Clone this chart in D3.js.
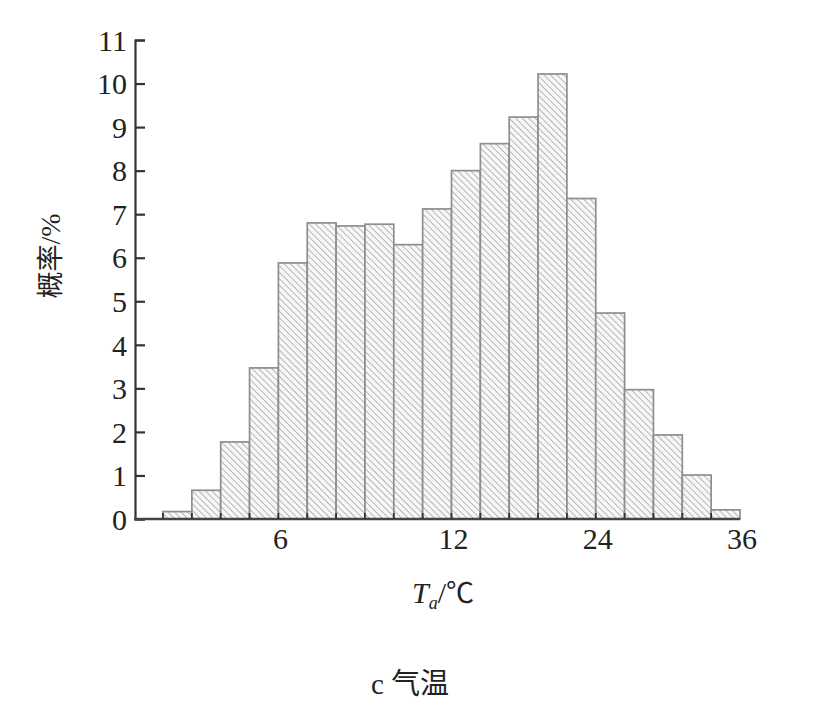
<!DOCTYPE html>
<html><head><meta charset="utf-8">
<script src="https://cdn.jsdelivr.net/npm/d3@7/dist/d3.min.js"></script>
<style>body{margin:0;background:#fff}</style>
</head><body>
<script>
// Data
const bins = d3.range(20).map(i => "b" + i);
const probability = [0.17, 0.66, 1.77, 3.47, 5.88, 6.80, 6.73, 6.77, 6.30, 7.12,
                     8.00, 8.62, 9.23, 10.22, 7.36, 4.73, 2.97, 1.93, 1.01, 0.21];
const yTicks = [0,1,2,3,4,5,6,7,8,9,10,11];
const xTickLabels = ["6","12","24","36"];
const xTickBoundaryIndex = [4,10,15,20];

const W = 832, H = 701;
const svg = d3.select("body").append("svg").attr("width", W).attr("height", H);
const serif = "'Liberation Serif','DejaVu Serif',serif";
const cjk = "'Noto Sans CJK SC', sans-serif";

const defs = svg.append("defs");
const pat = defs.append("pattern").attr("id","hatch").attr("patternUnits","userSpaceOnUse")
  .attr("width",4.6).attr("height",4.6).attr("patternTransform","rotate(-45)");
pat.append("rect").attr("width",4.6).attr("height",4.6).attr("fill","#f7f7f7");
pat.append("line").attr("x1",0).attr("y1",0).attr("x2",0).attr("y2",4.6)
  .attr("stroke","#a4a4a4").attr("stroke-width",1.5);

const axisX = 135, x0 = 163, x1 = 740, yTop = 40, yBot = 519;
const x = d3.scaleBand().domain(bins).range([x0, x1]).padding(0);
const y = d3.scaleLinear().domain([0, 11]).range([yBot, yTop]);
const bw = x.bandwidth();
const boundary = i => x0 + i * bw;

// bars
svg.append("g").selectAll("rect").data(probability).join("rect")
  .attr("x", (d,i) => x(bins[i]))
  .attr("y", d => y(d))
  .attr("width", bw)
  .attr("height", d => y(0) - y(d))
  .attr("fill", "url(#hatch)")
  .attr("stroke", "#8e8e8e").attr("stroke-width", 1.7);

// y axis
const yAxis = d3.axisLeft(y).tickValues(yTicks).tickSize(-10).tickPadding(16).tickFormat(d3.format("d"));
const gy = svg.append("g").attr("transform", `translate(${axisX},0)`).call(yAxis);
gy.select(".domain").attr("stroke","#333").attr("stroke-width",2.2);
gy.selectAll(".tick line").attr("stroke","#333").attr("stroke-width",2.2);
gy.selectAll(".tick text").attr("font-family", serif).attr("font-size", 30).attr("fill","#222")
  .attr("x", -8).attr("dy","0.34em");

// x axis baseline
svg.append("line").attr("x1", axisX - 1).attr("x2", x1).attr("y1", y(0)).attr("y2", y(0))
  .attr("stroke","#444").attr("stroke-width",2.4);
// small ticks at bin boundaries
svg.append("g").selectAll("line").data(d3.range(bins.length)).join("line")
  .attr("x1", i => boundary(i)).attr("x2", i => boundary(i))
  .attr("y1", y(0)).attr("y2", y(0) - 6)
  .attr("stroke","#333").attr("stroke-width",1.8);
// x tick labels
svg.append("g").selectAll("text").data(xTickLabels).join("text")
  .attr("x", (d,i) => boundary(xTickBoundaryIndex[i]) + 2)
  .attr("y", 549)
  .attr("text-anchor","middle")
  .attr("font-family", serif).attr("font-size", 30).attr("fill","#222")
  .text(d => d);

// x title
const xt = svg.append("text").attr("x", 443).attr("y", 603).attr("text-anchor","middle")
  .attr("font-family", serif).attr("font-size", 30).attr("fill","#222");
xt.append("tspan").attr("font-style","italic").text("T");
xt.append("tspan").attr("font-style","italic").attr("font-size", 18).attr("dy", 6).text("a");
xt.append("tspan").attr("dy", -6).text("/");
xt.append("tspan").attr("font-family", cjk).attr("font-size", 28).text("℃");

// y title
const yt = svg.append("text").attr("transform", "translate(60,256) rotate(-90)")
  .attr("text-anchor","middle").attr("font-size", 27).attr("fill","#222");
yt.append("tspan").attr("font-family", cjk).text("概率");
yt.append("tspan").attr("font-family", serif).attr("font-size", 28).text("/%");

// caption
const cap = svg.append("text").attr("x", 410).attr("y", 694).attr("text-anchor","middle")
  .attr("font-size", 29).attr("fill","#222");
cap.append("tspan").attr("font-family", serif).text("c ");
cap.append("tspan").attr("font-family", cjk).text("气温");
</script>
</body></html>
